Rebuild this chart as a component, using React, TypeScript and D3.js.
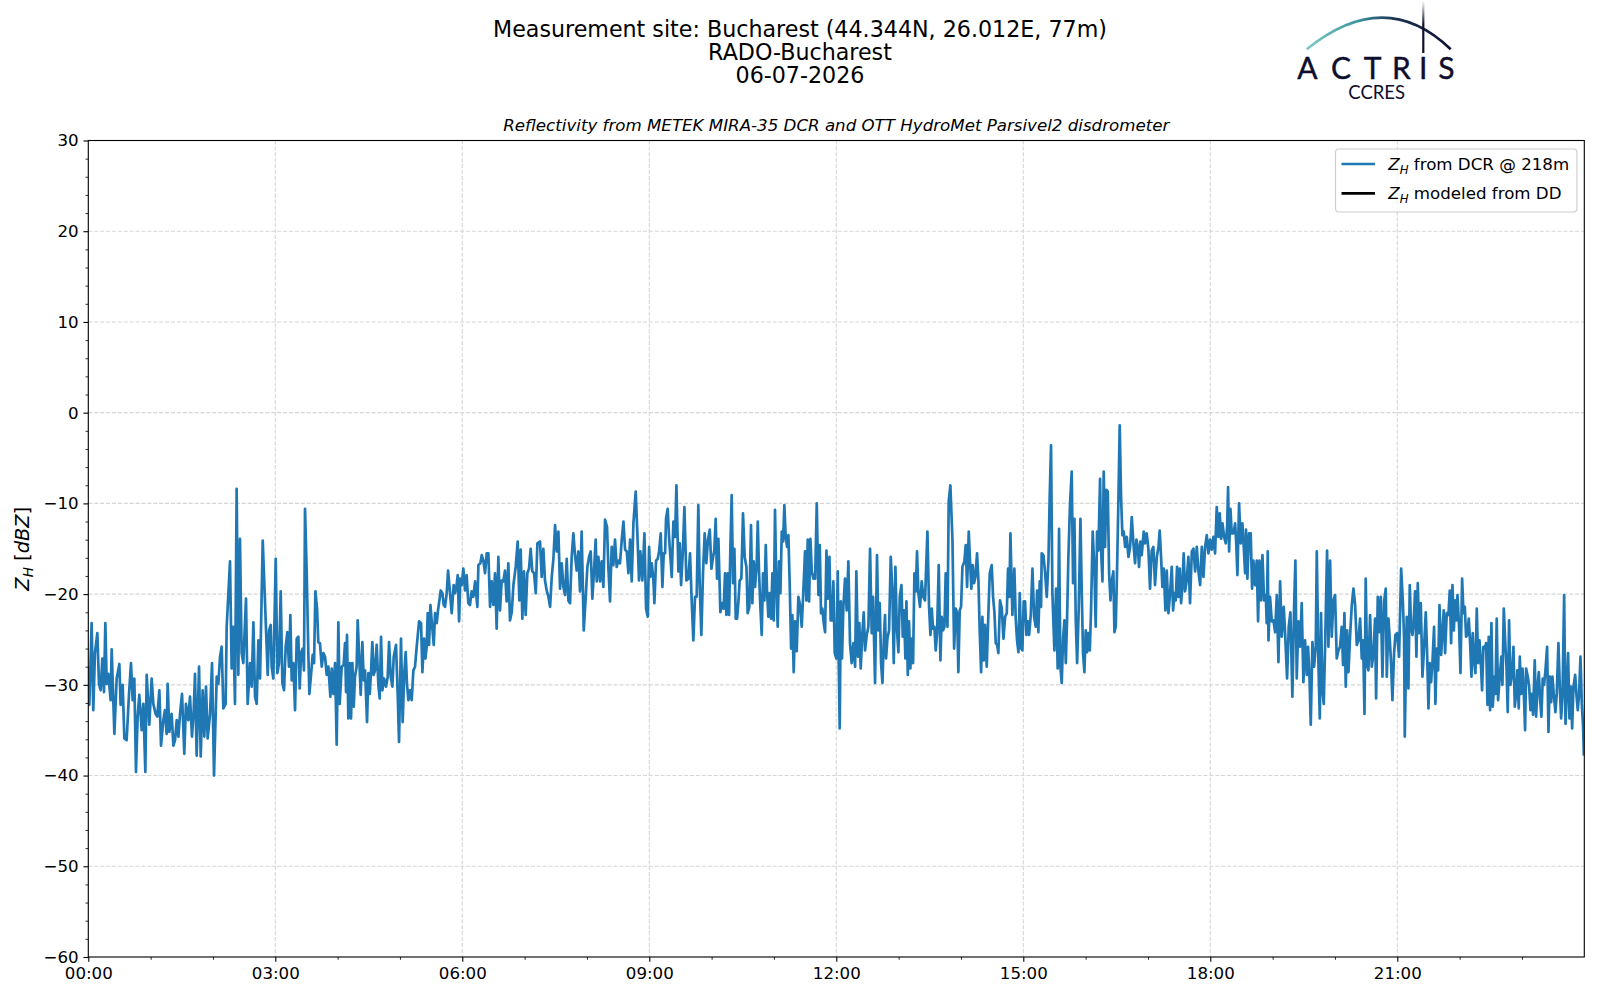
import * as d3 from "d3";
import { useEffect, useRef } from "react";

type Pt = [number, number]; // [minutes after 00:00 UTC, Z_H in dBZ]

// Z_H from the cloud radar at 218 m
const dcrBlock0: Pt[] = [
  [0, -28.0], [1, -32.2], [3.2, -23.2], [4.8, -32.8], [6.4, -26.5], [8.7, -24.3], [10.3, -29.9], [11.9, -30.6],
  [13.5, -27.1], [15.1, -30.8], [16.4, -23.2], [17.7, -29.9], [19.3, -28.8], [21.5, -31.7], [22.5, -26.1], [25.1, -35.4],
  [27.3, -29.3], [29.9, -27.7], [31.1, -32.2], [33.1, -30.0], [34.7, -35.9], [36.9, -36.1], [39.2, -31.0], [41.1, -27.6],
  [42.7, -31.7], [44.3, -29.3], [45.9, -39.6], [47.5, -33.5], [49.1, -31.1], [51.4, -35.0], [53.0, -32.1], [54.9, -39.6],
  [56.2, -28.9], [58.7, -34.4], [61.0, -29.3], [62.6, -32.1], [64.8, -33.2], [66.4, -33.5], [68.4, -30.6], [70.0, -36.7],
  [72.2, -33.9], [73.8, -32.8], [75.4, -35.4], [76.4, -29.9], [78.0, -35.2], [80.2, -33.2], [81.9, -36.7], [83.5, -36.1],
  [85.1, -33.9], [86.7, -35.7], [88.3, -33.2], [90.2, -31.0], [92.4, -37.6], [94.0, -32.1], [96.3, -33.9], [97.9, -31.3],
  [99.8, -35.7], [101.4, -33.0], [102.7, -28.8], [104.3, -37.8], [106.6, -28.0], [108.2, -37.9], [110.1, -30.6], [111.7, -35.7],
  [113.3, -30.2], [114.9, -35.9], [117.2, -33.2], [119.1, -27.6], [121.0, -40.0], [123.6, -29.1], [125.2, -29.9], [126.8, -26.9],
  [128.4, -25.8], [130.0, -32.6], [132.2, -32.1], [133.2, -23.6], [136.4, -16.4], [138.0, -28.2], [139.6, -23.6], [141.2, -32.1],
  [142.8, -8.4], [144.4, -28.9], [146.0, -13.9], [147.6, -26.5], [149.2, -27.6], [151.8, -20.5], [153.4, -32.1], [155.7, -27.6],
  [157.3, -30.2], [158.9, -23.1], [160.5, -31.3], [162.1, -32.1], [163.7, -25.1], [165.3, -29.3], [167.9, -14.1],
];

const dcrBlock1: Pt[] = [
  [171.1, -24.0], [172.7, -28.9], [174.0, -24.0], [175.6, -23.4], [176.5, -28.0], [178.1, -29.3], [180.4, -16.1], [182.0, -28.7],
  [183.6, -27.6], [185.2, -19.7], [186.8, -29.8], [188.4, -30.6], [190.0, -25.8], [191.6, -24.2], [193.2, -28.0], [194.5, -22.3],
  [195.8, -29.5], [197.4, -27.6], [199.0, -32.8], [200.6, -24.9], [202.2, -24.7], [203.5, -30.4], [204.8, -26.5], [206.4, -26.0],
  [207.6, -28.4], [208.6, -10.6], [210.2, -17.4], [211.8, -26.5], [212.8, -31.0], [214.4, -28.9], [216.0, -26.7], [217.3, -27.6],
  [218.6, -19.7], [220.2, -21.6], [221.4, -25.3], [223.0, -25.4], [224.7, -28.0], [226.3, -26.5], [227.9, -26.9], [229.5, -28.9],
  [231.1, -28.0], [233.0, -31.3], [234.3, -28.2], [235.9, -31.0], [237.5, -27.6], [239.1, -36.6], [240.7, -23.1], [242.0, -32.1],
  [243.9, -28.0], [245.8, -27.8], [247.1, -25.4], [248.1, -30.8], [249.0, -24.5], [250.3, -33.7], [251.9, -27.6], [252.9, -33.7],
  [254.2, -27.6], [255.5, -32.4], [256.7, -29.1], [258.3, -28.0], [259.3, -22.9], [260.9, -27.3], [262.2, -31.1], [263.8, -25.3],
  [265.1, -29.5], [266.4, -28.4], [268.3, -34.1], [269.6, -28.7], [270.9, -31.0], [272.1, -28.7], [273.4, -25.3], [274.7, -28.9],
  [276.0, -28.4], [277.6, -25.6], [279.2, -30.0], [280.5, -31.5], [281.8, -24.7], [283.1, -30.6], [284.7, -29.3], [286.6, -30.2],
  [288.2, -29.1], [289.5, -25.3], [291.1, -29.1], [292.7, -30.2], [294.0, -26.9], [296.2, -25.6], [297.8, -31.0], [299.1, -36.3],
  [301.0, -24.9], [302.6, -34.1], [304.2, -28.6], [305.5, -26.4], [306.8, -30.0], [308.1, -31.7], [309.7, -30.6], [311.3, -31.7],
  [312.9, -28.4], [314.5, -28.0], [316.1, -25.8], [318.4, -23.0], [320.3, -23.2], [321.6, -28.6], [323.2, -24.9], [324.5, -27.1],
  [325.7, -25.8], [326.7, -22.1], [328.0, -25.6], [329.3, -21.2], [330.5, -22.9], [332.5, -25.6], [333.8, -22.1], [335.4, -23.2],
  [336.6, -21.8], [337.6, -21.0], [339.2, -19.6], [340.8, -19.9], [342.1, -21.2], [343.4, -21.4], [345.0, -19.9], [346.3, -17.4],
  [348.2, -19.9], [349.8, -22.1], [351.7, -19.0],
];

const dcrBlock2: Pt[] = [
  [353.0, -19.9], [354.3, -19.2], [355.6, -17.9], [356.9, -23.0], [358.1, -18.3], [359.4, -19.0], [361.0, -17.2], [362.6, -19.6],
  [364.2, -17.9], [365.8, -21.0], [367.4, -21.2], [369.0, -19.7], [370.6, -20.3], [372.3, -18.6], [374.5, -21.4], [375.5, -16.8],
  [377.4, -16.6], [378.7, -15.7], [380.3, -16.3], [381.9, -17.7], [383.5, -15.5], [385.1, -15.5], [386.7, -21.4], [388.3, -18.6],
  [389.9, -21.2], [391.5, -17.7], [393.1, -23.8], [394.7, -15.9], [396.3, -21.8], [397.9, -18.5], [399.5, -18.6], [401.1, -17.4],
  [402.7, -20.8], [404.3, -16.6], [405.9, -22.9], [407.6, -22.0], [409.2, -19.0], [411.4, -17.0], [413.3, -14.2], [414.9, -20.7],
  [416.2, -15.1], [417.8, -22.7], [419.4, -17.5], [421.0, -22.3], [422.6, -17.7], [424.2, -17.2], [425.8, -15.0], [427.4, -17.5],
  [429.1, -17.7], [430.7, -19.9], [432.3, -14.4], [434.8, -14.2], [436.4, -18.1], [438.0, -15.0], [439.6, -18.5], [441.2, -19.6],
  [442.9, -20.3], [444.5, -21.4], [446.1, -18.1], [447.7, -16.1], [449.3, -12.4], [450.9, -15.3], [452.5, -13.1], [454.1, -19.4],
  [455.7, -16.6], [457.3, -19.2], [458.9, -20.1], [460.5, -16.1], [462.1, -20.7], [463.7, -21.0], [465.3, -15.9], [466.9, -13.3],
  [468.5, -15.7], [470.1, -17.4], [471.7, -15.3], [473.3, -19.7], [474.9, -13.1], [476.9, -24.0], [478.8, -20.3], [480.4, -17.0],
  [482.0, -15.9], [483.6, -15.3], [485.2, -20.5], [487.1, -16.8], [488.4, -14.0], [489.4, -18.6], [491.0, -15.9], [492.6, -18.6],
  [494.2, -16.4], [495.8, -19.2], [497.4, -11.8], [499.3, -12.6], [500.6, -17.0], [502.2, -20.8], [503.8, -14.8], [505.4, -16.8],
  [507.0, -14.0], [508.6, -17.0], [510.2, -16.3], [511.8, -16.6], [513.5, -14.0], [515.1, -12.0], [516.7, -15.1], [518.3, -15.3],
  [519.9, -17.7], [521.5, -14.0], [523.1, -18.6], [524.7, -12.2], [526.9, -8.7], [528.5, -13.3], [530.1, -18.5], [531.4, -15.3],
  [533.3, -18.5], [535.3, -13.3],
];

const dcrBlock3: Pt[] = [
  [536.9, -21.6], [538.5, -22.5], [539.8, -14.8], [541.0, -18.1], [542.3, -16.6], [543.9, -18.3], [544.9, -21.0], [546.5, -16.3],
  [548.1, -16.1], [549.4, -15.3], [551.0, -13.3], [552.6, -19.2], [553.9, -15.5], [555.2, -15.5], [556.1, -11.7], [557.7, -10.6],
  [559.0, -13.7], [560.3, -15.9], [561.6, -18.1], [563.2, -12.0], [564.8, -13.7], [566.1, -8.0], [568.0, -17.5], [569.3, -14.4],
  [570.6, -19.0], [572.2, -15.5], [573.8, -10.4], [575.7, -18.5], [577.6, -18.3], [579.2, -15.5], [580.8, -20.7], [582.4, -25.1],
  [584.0, -20.3], [585.6, -20.3], [587.2, -10.2], [588.5, -18.8], [590.1, -24.5], [591.7, -17.7], [593.3, -13.3], [594.9, -16.6],
  [596.5, -14.0], [598.2, -12.9], [599.8, -17.2], [601.4, -15.9], [602.6, -15.2], [603.9, -11.7], [605.2, -18.3], [606.5, -13.9],
  [608.4, -22.0], [610.0, -21.0], [611.6, -21.6], [612.9, -17.7], [614.2, -22.3], [615.5, -17.7], [616.8, -22.3], [618.0, -15.2],
  [619.3, -9.1], [620.6, -18.8], [621.9, -15.0], [623.2, -22.7], [624.5, -22.7], [625.8, -20.8], [627.0, -18.5], [628.6, -18.3],
  [630.2, -11.1], [631.8, -15.9], [633.5, -17.0], [634.7, -22.1], [636.3, -21.4], [637.9, -12.4], [639.2, -21.0], [640.5, -16.4],
  [641.8, -19.2], [643.4, -16.6], [644.4, -12.0], [645.6, -17.5], [646.9, -21.4], [648.2, -24.5], [649.5, -17.7], [650.8, -20.7],
  [652.1, -14.6], [653.3, -19.6], [654.6, -22.5], [655.9, -19.9], [657.2, -22.7], [658.5, -17.7], [659.8, -22.9], [661.0, -10.7],
  [662.3, -19.0], [663.6, -23.6], [664.9, -16.4], [666.2, -19.9], [667.5, -13.1], [668.8, -14.2], [670.0, -10.2], [671.3, -13.7],
  [672.6, -14.8], [673.9, -13.5], [675.2, -19.2], [676.5, -26.0], [677.7, -22.3], [679.0, -28.6], [680.3, -23.0], [681.9, -26.3],
  [683.5, -20.3], [685.1, -21.2], [686.7, -23.6], [688.3, -19.6], [689.9, -15.3], [691.2, -20.7], [692.5, -14.0], [693.8, -20.8],
  [695.1, -13.9], [696.4, -17.5], [698.0, -18.3], [699.6, -18.3], [701.2, -10.0], [702.8, -20.1], [704.1, -14.6], [705.3, -22.1],
  [706.6, -21.6], [707.9, -23.2], [709.2, -24.2], [710.5, -15.2], [711.8, -20.5], [713.4, -15.9], [714.6, -22.9], [715.9, -22.9],
  [717.2, -18.6], [718.5, -26.5],
];

const dcrBlock4: Pt[] = [
  [720.1, -27.1], [721.4, -17.5], [722.3, -27.3], [723.3, -34.8], [724.3, -20.8], [725.5, -27.1], [726.8, -21.4], [728.4, -18.3],
  [730.0, -21.8], [731.6, -16.4], [733.2, -25.4], [734.8, -27.6], [736.5, -25.4], [738.1, -28.0], [739.3, -17.5], [740.9, -26.9],
  [742.2, -23.2], [743.5, -28.2], [745.1, -24.3], [746.4, -22.0], [747.7, -26.2], [749.3, -24.5], [750.9, -23.6], [752.5, -15.0],
  [754.1, -24.3], [755.4, -20.3], [757.3, -29.8], [759.2, -15.7], [760.5, -24.0], [761.8, -21.0], [763.1, -27.6], [764.4, -29.8],
  [765.7, -25.1], [766.9, -22.3], [767.9, -27.1], [769.2, -24.9], [770.8, -24.0], [772.4, -15.9], [774.0, -19.6], [775.3, -27.6],
  [776.9, -17.0], [778.2, -23.6], [779.8, -26.4], [781.1, -20.3], [782.7, -19.0], [784.0, -24.7], [785.2, -21.8], [786.5, -27.1],
  [787.5, -20.8], [788.8, -28.9], [790.0, -23.0], [791.3, -28.2], [792.6, -24.9], [793.9, -27.6], [795.2, -17.7], [796.5, -19.7],
  [797.7, -15.3], [799.0, -19.9], [800.6, -21.4], [802.2, -18.6], [803.8, -20.3], [805.4, -20.7], [807.7, -13.1], [809.3, -21.4],
  [810.6, -24.5], [811.9, -21.6], [813.1, -23.8], [814.4, -23.6], [815.7, -26.2], [817.0, -24.3], [818.6, -16.8], [820.2, -27.3],
  [821.5, -22.5], [822.8, -24.0], [824.1, -23.6], [825.3, -17.7], [827.0, -23.6], [828.2, -9.8], [829.8, -8.0], [831.8, -14.0],
  [833.4, -26.0], [835.0, -21.6], [836.3, -22.1], [837.5, -28.6], [838.8, -21.8], [840.1, -21.4], [841.4, -17.0], [843.3, -16.4],
  [844.6, -14.6], [845.9, -19.2], [847.5, -13.1], [848.8, -16.6], [850.0, -19.4], [851.3, -16.8], [852.6, -18.8], [853.9, -18.1],
  [855.5, -15.5], [856.8, -18.5], [858.1, -24.3], [859.4, -28.6], [860.6, -22.5], [861.9, -27.3], [863.2, -23.4], [864.8, -28.0],
  [866.4, -22.1], [867.7, -17.7], [869.6, -16.8], [870.9, -20.3], [872.2, -22.0], [873.5, -25.4], [874.8, -25.6], [876.0, -26.5],
  [877.6, -20.7], [879.3, -21.6], [880.9, -24.9], [882.5, -22.5], [884.1, -22.1], [885.3, -17.2], [886.6, -20.3], [887.6, -13.3],
  [889.5, -22.3], [891.4, -17.2], [892.7, -22.7], [894.0, -25.1], [895.3, -26.4], [896.6, -19.9], [897.9, -26.0], [899.1, -26.2],
  [900.4, -20.8],
];

const dcrBlock5: Pt[] = [
  [901.7, -20.8], [903.0, -24.5], [904.3, -23.0], [905.6, -24.5], [907.2, -22.3], [908.8, -17.2], [910.4, -22.5], [912.0, -23.6],
  [913.3, -19.6], [914.5, -24.2], [915.8, -18.6], [917.1, -21.4], [917.7, -15.5], [919.4, -15.7], [921.0, -17.7], [922.6, -20.3],
  [924.2, -16.3], [925.4, -9.3], [926.7, -3.6], [928.0, -19.9], [929.9, -26.2], [931.5, -19.4], [933.1, -28.2], [934.4, -12.8],
  [935.7, -28.0], [937.0, -29.8], [938.3, -24.9], [939.6, -22.9], [940.9, -27.6], [942.1, -22.9], [943.4, -15.9], [945.0, -10.0],
  [946.6, -6.5], [947.9, -18.8], [949.2, -11.7], [950.5, -22.9], [951.8, -27.6], [953.4, -21.4], [955.0, -11.7], [956.3, -19.9],
  [957.5, -26.5], [958.8, -28.6], [960.1, -24.0], [961.4, -26.4], [962.7, -24.3], [964.0, -26.2], [965.2, -21.8], [966.8, -13.1],
  [968.4, -17.2], [969.7, -23.6], [971.0, -13.1], [972.3, -15.2], [973.9, -7.3], [974.9, -15.2], [976.2, -18.6], [977.4, -6.5],
  [978.7, -14.8], [980.0, -8.5], [981.3, -8.7], [982.6, -17.7], [983.9, -20.7], [985.1, -18.6], [986.7, -17.5], [987.7, -24.2],
  [989.0, -23.6], [990.3, -17.0], [991.6, -9.3], [992.8, -1.4], [994.1, -9.3], [995.4, -13.5], [996.7, -13.1], [998.0, -14.8],
  [999.6, -13.7], [1001.2, -15.9], [1002.8, -14.8], [1004.4, -11.5], [1006.0, -14.4], [1007.6, -16.6], [1008.9, -14.0], [1010.2, -14.8],
  [1011.4, -17.0], [1012.7, -14.2], [1014.0, -15.7], [1015.9, -13.1], [1017.2, -14.4], [1018.8, -13.3], [1020.4, -15.0], [1022.0, -19.4],
  [1023.6, -15.2], [1025.2, -14.8], [1026.8, -19.0], [1028.5, -15.9], [1030.1, -14.8], [1031.3, -13.0], [1032.6, -15.9], [1033.9, -19.2],
  [1035.2, -17.2], [1036.8, -21.8], [1038.1, -17.4], [1039.7, -22.1], [1041.3, -19.9], [1042.9, -17.0], [1044.2, -21.8], [1045.5, -19.9],
  [1046.7, -20.7], [1048.0, -17.0], [1049.3, -20.3], [1050.6, -17.2], [1051.9, -21.0], [1053.2, -19.0], [1054.4, -15.5], [1055.7, -19.7],
  [1057.3, -18.5], [1058.9, -15.9], [1060.5, -21.0], [1062.2, -15.3], [1063.8, -15.0], [1065.4, -17.5], [1067.0, -14.8], [1068.6, -17.5],
  [1070.2, -19.0], [1071.8, -14.8], [1073.4, -18.1], [1075.0, -14.8], [1076.6, -13.5], [1078.2, -15.5], [1079.8, -14.0], [1081.4, -15.1],
  [1083.0, -13.7],
];

const dcrBlock6: Pt[] = [
  [1084.6, -15.5], [1086.2, -10.4], [1087.8, -13.7], [1089.1, -11.1], [1090.4, -13.9], [1091.7, -12.2], [1093.3, -13.7], [1094.9, -14.4],
  [1096.2, -12.6], [1097.1, -8.2], [1098.1, -15.3], [1099.4, -10.6], [1100.6, -13.3], [1102.3, -13.3], [1103.9, -12.2], [1104.8, -14.0],
  [1106.1, -17.9], [1107.7, -10.0], [1109.3, -14.4], [1110.9, -12.2], [1112.2, -14.8], [1113.5, -17.7], [1114.4, -12.9], [1115.7, -18.3],
  [1117.3, -13.3], [1118.9, -13.3], [1120.2, -19.4], [1121.5, -16.3], [1123.1, -19.0], [1124.7, -16.3], [1126.0, -23.0], [1127.3, -16.3],
  [1128.9, -20.7], [1130.2, -15.7], [1131.8, -20.7], [1133.4, -20.1], [1134.3, -23.2], [1135.3, -15.3], [1136.0, -25.1], [1137.5, -20.3],
  [1139.2, -23.0], [1140.8, -22.9], [1142.4, -24.2], [1144.0, -20.1], [1145.6, -27.5], [1147.2, -18.6], [1148.8, -24.7], [1150.7, -21.4],
  [1152.0, -24.3], [1153.9, -29.3], [1155.5, -23.6], [1157.1, -22.0], [1159.0, -31.3], [1160.7, -21.2], [1161.9, -16.3], [1163.2, -29.3],
  [1164.8, -23.0], [1166.4, -25.8], [1168.0, -21.0], [1169.6, -29.7], [1171.2, -25.1], [1172.9, -28.9], [1174.1, -25.8], [1175.4, -28.9],
  [1176.7, -34.4], [1178.3, -25.3], [1179.9, -28.0], [1181.5, -25.8], [1182.5, -15.3], [1184.1, -27.8], [1185.4, -33.7], [1186.6, -22.1],
  [1187.9, -30.6], [1189.2, -32.1], [1190.5, -25.8], [1192.4, -15.2], [1193.7, -25.8], [1195.3, -16.3], [1196.9, -24.7], [1198.5, -20.7],
  [1200.1, -20.1], [1201.7, -27.1], [1203.3, -26.2], [1204.9, -25.8], [1206.5, -23.6], [1207.8, -27.8], [1209.1, -22.1], [1210.4, -30.2],
  [1211.7, -24.0], [1213.0, -28.6], [1214.6, -24.5], [1216.2, -21.2], [1217.8, -19.4], [1219.4, -21.2], [1221.0, -25.6], [1222.6, -25.1],
  [1224.2, -22.7], [1225.8, -27.1], [1227.1, -25.1], [1228.4, -33.2], [1229.6, -18.3], [1230.9, -27.8], [1232.2, -28.4], [1233.8, -22.3],
  [1235.4, -28.0], [1237.0, -26.7], [1238.6, -22.7], [1239.6, -31.5], [1241.2, -20.3], [1242.5, -24.2], [1244.1, -20.3], [1245.7, -29.1],
  [1247.3, -20.8], [1248.9, -19.4], [1249.9, -29.1], [1251.5, -22.7], [1252.8, -25.1], [1254.0, -27.6], [1255.3, -31.7], [1256.9, -26.5],
  [1258.2, -24.5], [1259.8, -24.3], [1261.7, -26.9], [1263.7, -17.2], [1265.3, -20.7], [1266.5, -24.7], [1267.2, -35.7],
];

const dcrBlock7: Pt[] = [
  [1269.1, -22.5], [1270.7, -30.4], [1272.0, -19.0], [1273.3, -23.6], [1274.6, -24.5], [1275.8, -23.0], [1277.1, -19.7], [1278.4, -26.9],
  [1279.7, -18.8], [1281.0, -24.3], [1282.6, -21.0], [1284.2, -29.1], [1285.5, -26.5], [1287.4, -22.0], [1288.7, -26.5], [1290.0, -32.6],
  [1291.2, -27.6], [1292.5, -29.7], [1293.8, -27.6], [1295.4, -23.6], [1296.7, -32.1], [1298.0, -26.0], [1299.3, -28.4], [1300.6, -21.2],
  [1302.2, -26.7], [1303.4, -24.3], [1304.7, -21.8], [1306.0, -26.5], [1307.6, -22.1], [1309.2, -22.3], [1310.5, -19.6], [1311.8, -25.4],
  [1313.1, -19.0], [1314.4, -24.0], [1315.6, -20.7], [1316.9, -22.9], [1317.9, -20.1], [1319.5, -23.6], [1320.8, -28.7], [1322.4, -18.3],
  [1323.7, -22.1], [1325.0, -21.4], [1326.2, -24.7], [1327.5, -24.5], [1328.8, -22.7], [1330.1, -25.4], [1331.4, -29.1], [1332.6, -24.3],
  [1333.9, -27.3], [1335.2, -28.7], [1336.5, -21.6], [1337.8, -27.6], [1339.1, -25.1], [1340.3, -27.3], [1341.6, -30.6], [1342.9, -25.8],
  [1344.2, -26.0], [1345.5, -25.4], [1346.8, -32.2], [1348.0, -24.7], [1349.3, -32.8], [1350.6, -23.2], [1351.9, -32.4], [1353.5, -29.1],
  [1354.5, -31.0], [1355.7, -22.7], [1357.0, -31.7], [1358.6, -29.1], [1360.2, -26.9], [1361.2, -30.0], [1362.5, -21.6], [1363.8, -25.1],
  [1365.1, -28.0], [1366.3, -33.0], [1367.6, -22.9], [1368.9, -30.0], [1370.5, -28.9], [1371.8, -25.8], [1373.1, -32.4], [1374.4, -31.0],
  [1375.6, -28.4], [1376.9, -32.6], [1377.9, -26.9], [1379.2, -31.0], [1380.5, -28.2], [1381.7, -30.6], [1383.0, -35.0], [1384.0, -28.2],
  [1385.6, -29.1], [1386.9, -30.2], [1388.2, -32.8], [1389.4, -31.0], [1390.7, -33.3], [1392.3, -27.3], [1393.6, -33.5], [1394.9, -30.4],
  [1396.2, -28.6], [1397.5, -31.7], [1398.7, -33.5], [1400.0, -29.3], [1401.3, -30.0], [1402.6, -28.4], [1404.2, -25.8], [1405.5, -35.2],
  [1406.8, -29.1], [1408.1, -31.9], [1409.3, -29.1], [1410.6, -31.0], [1412.2, -33.0], [1413.5, -31.0], [1415.1, -25.4], [1416.4, -30.2],
  [1417.7, -33.7], [1419.0, -31.3], [1420.6, -20.1], [1421.9, -34.3], [1423.1, -30.8], [1424.4, -26.5], [1425.7, -33.7], [1427.0, -30.2],
  [1428.3, -34.8], [1429.6, -30.2], [1431.2, -28.9], [1432.4, -31.0], [1433.7, -32.8], [1435.0, -31.0], [1436.3, -26.9], [1437.6, -32.1],
  [1438.9, -34.8], [1439.6, -37.8],
];

const dcrZh: Pt[] = [
  ...dcrBlock0, ...dcrBlock1, ...dcrBlock2, ...dcrBlock3,
  ...dcrBlock4, ...dcrBlock5, ...dcrBlock6, ...dcrBlock7,
];

// Z_H modeled from the disdrometer drop size distribution: no rain that day
const ddZh: Pt[] = [];

const timeTickLabels = ["00:00", "03:00", "06:00", "09:00", "12:00", "15:00", "18:00", "21:00"];
const zTicks = [-60, -50, -40, -30, -20, -10, 0, 10, 20, 30];

const titleLines = [
  "Measurement site: Bucharest (44.344N, 26.012E, 77m)",
  "RADO-Bucharest",
  "06-07-2026",
];
const subtitle = "Reflectivity from METEK MIRA-35 DCR and OTT HydroMet Parsivel2 disdrometer";

const legendItems = [
  { label: " from DCR @ 218m", color: "#1f77b4" },
  { label: " modeled from DD", color: "#000000" },
];

const logoLetters: [string, number][] = [
  ["A", 1307.5], ["C", 1341], ["T", 1372.5], ["R", 1401.5], ["I", 1423.3], ["S", 1446.5],
];

const toMinutes = (s: string) => {
  const [h, m] = s.split(":").map(Number);
  return h * 60 + m;
};

function App() {
  const ref = useRef<SVGSVGElement>(null);

  useEffect(() => {
    const width = 1600;
    const height = 1000;
    const margin = { top: 140.5, bottom: 43, left: 88.3, right: 15.7 };
    const font = "DejaVu Sans";

    const svg = d3.select(ref.current);
    svg.selectAll("*").remove();

    const x = d3.scaleLinear().domain([0, 1440]).range([margin.left, width - margin.right]);
    const y = d3.scaleLinear().domain([-60, 30]).range([height - margin.bottom, margin.top]);

    const x0 = margin.left, x1 = width - margin.right;
    const y0 = margin.top, y1 = height - margin.bottom;

    svg.append("rect").attr("width", width).attr("height", height).attr("fill", "white");

    // Titles
    svg.append("g")
      .selectAll("text")
      .data(titleLines)
      .join("text")
      .attr("x", width / 2)
      .attr("y", (_, i) => 36.7 + i * 23)
      .attr("text-anchor", "middle")
      .attr("font-family", font)
      .attr("font-size", 22.2)
      .text((d) => d);

    svg.append("text")
      .attr("x", (x0 + x1) / 2)
      .attr("y", 131)
      .attr("text-anchor", "middle")
      .attr("font-family", font)
      .attr("font-style", "italic")
      .attr("font-size", 16.67)
      .text(subtitle);

    // Grid
    const tickMinutes = timeTickLabels.map(toMinutes);
    const grid = svg.append("g")
      .attr("stroke", "#d6d6d6")
      .attr("stroke-width", 1.1)
      .attr("stroke-dasharray", "4.1,1.8");
    grid.selectAll("line.v")
      .data(tickMinutes.slice(1))
      .join("line")
      .attr("x1", (d) => x(d)).attr("x2", (d) => x(d))
      .attr("y1", y0).attr("y2", y1);
    grid.selectAll("line.h")
      .data(zTicks.slice(1, -1))
      .join("line")
      .attr("x1", x0).attr("x2", x1)
      .attr("y1", (d) => y(d)).attr("y2", (d) => y(d));

    // Series
    svg.append("clipPath").attr("id", "plot-area")
      .append("rect").attr("x", x0).attr("y", y0).attr("width", x1 - x0).attr("height", y1 - y0);

    const line = d3.line<Pt>().x((d) => x(d[0])).y((d) => y(d[1]));

    svg.append("path")
      .datum(dcrZh)
      .attr("clip-path", "url(#plot-area)")
      .attr("fill", "none")
      .attr("stroke", "#1f77b4")
      .attr("stroke-width", 2.7)
      .attr("stroke-linejoin", "round")
      .attr("d", line);

    if (ddZh.length) {
      svg.append("path")
        .datum(ddZh)
        .attr("clip-path", "url(#plot-area)")
        .attr("fill", "none")
        .attr("stroke", "black")
        .attr("stroke-width", 2.7)
        .attr("d", line);
    }

    // Axes
    const styleAxis = (g: d3.Selection<SVGGElement, unknown, null, undefined>) => {
      g.select(".domain").remove();
      g.attr("font-family", font).attr("font-size", 16.67);
      g.selectAll("line").attr("stroke", "black").attr("stroke-width", 1.11);
      g.selectAll("text").attr("fill", "black");
    };

    svg.append("g")
      .attr("transform", `translate(0,${y1})`)
      .call(d3.axisBottom(x).tickValues(tickMinutes).tickSize(4.86).tickPadding(4.86)
        .tickFormat((_, i) => timeTickLabels[i]))
      .call(styleAxis);

    svg.append("g")
      .attr("transform", `translate(0,${y1})`)
      .call(d3.axisBottom(x).tickValues(d3.range(60, 1440, 60).filter((m) => m % 180 !== 0))
        .tickSize(2.78).tickFormat(() => ""))
      .call(styleAxis)
      .selectAll("line").attr("stroke-width", 0.83);

    svg.append("g")
      .attr("transform", `translate(${x0},0)`)
      .call(d3.axisLeft(y).tickValues(zTicks).tickSize(4.86).tickPadding(4.86).tickFormat(d3.format("d")))
      .call(styleAxis);

    svg.append("g")
      .attr("transform", `translate(${x0},0)`)
      .call(d3.axisLeft(y).tickValues(d3.range(-60, 31, 2).filter((v) => v % 10 !== 0))
        .tickSize(2.78).tickFormat(() => ""))
      .call(styleAxis)
      .selectAll("line").attr("stroke-width", 0.83);

    // Frame
    svg.append("rect")
      .attr("x", x0).attr("y", y0)
      .attr("width", x1 - x0).attr("height", y1 - y0)
      .attr("fill", "none")
      .attr("stroke", "black")
      .attr("stroke-width", 1.11);

    // Y label:  Z_H [dBZ]
    const ylab = svg.append("text")
      .attr("transform", `translate(29,${(y0 + y1) / 2}) rotate(-90)`)
      .attr("text-anchor", "middle")
      .attr("font-family", font)
      .attr("font-size", 19.4);
    ylab.append("tspan").attr("font-style", "italic").text("Z");
    ylab.append("tspan").attr("font-style", "italic").attr("font-size", 13.6).attr("dy", 4).text("H");
    ylab.append("tspan").attr("dy", -4).text(" [");
    ylab.append("tspan").attr("font-style", "italic").text("dBZ");
    ylab.append("tspan").text("]");

    // Legend
    const legend = svg.append("g");
    legend.append("rect")
      .attr("x", 1335.5).attr("y", 149)
      .attr("width", 241.5).attr("height", 63)
      .attr("rx", 3.5)
      .attr("fill", "white").attr("fill-opacity", 0.8)
      .attr("stroke", "#cccccc").attr("stroke-width", 1.11);

    const rows = legend.selectAll("g.row")
      .data(legendItems)
      .join("g")
      .attr("transform", (_, i) => `translate(0,${164 + i * 29.3})`);
    rows.append("line")
      .attr("x1", 1341.5).attr("x2", 1375)
      .attr("stroke", (d) => d.color)
      .attr("stroke-width", 2.7);
    const rowText = rows.append("text")
      .attr("x", 1388.3).attr("y", 6)
      .attr("font-family", font)
      .attr("font-size", 16.67);
    rowText.append("tspan").attr("font-style", "italic").text("Z");
    rowText.append("tspan").attr("font-style", "italic").attr("font-size", 11.7).attr("dy", 3.5).text("H");
    rowText.append("tspan").attr("dy", -3.5).text((d) => d.label);

    // ACTRIS / CCRES logo
    const defs = svg.append("defs");
    const arcGrad = defs.append("linearGradient")
      .attr("id", "arc-grad").attr("gradientUnits", "userSpaceOnUse")
      .attr("x1", 1306).attr("x2", 1451).attr("y1", 0).attr("y2", 0);
    arcGrad.append("stop").attr("offset", 0).attr("stop-color", "#7fcbc8");
    arcGrad.append("stop").attr("offset", 0.35).attr("stop-color", "#3d97a1");
    arcGrad.append("stop").attr("offset", 0.6).attr("stop-color", "#1b3552");
    arcGrad.append("stop").attr("offset", 1).attr("stop-color", "#0f0f30");
    const barGrad = defs.append("linearGradient")
      .attr("id", "bar-grad").attr("gradientUnits", "userSpaceOnUse")
      .attr("x1", 0).attr("x2", 0).attr("y1", 1).attr("y2", 53);
    barGrad.append("stop").attr("offset", 0).attr("stop-color", "#ffffff");
    barGrad.append("stop").attr("offset", 0.45).attr("stop-color", "#0f0f30");
    barGrad.append("stop").attr("offset", 1).attr("stop-color", "#0f0f30");

    const logo = svg.append("g");
    logo.append("path")
      .attr("d", "M1306.7,49.3 Q1385,-14 1450.7,49.3")
      .attr("fill", "none")
      .attr("stroke", "url(#arc-grad)")
      .attr("stroke-width", 2.6);
    logo.append("line")
      .attr("x1", 1423.3).attr("x2", 1423.3).attr("y1", 1).attr("y2", 53)
      .attr("stroke", "url(#bar-grad)")
      .attr("stroke-width", 2.2);
    logo.selectAll("text.letter")
      .data(logoLetters)
      .join("text")
      .attr("x", (d) => d[1])
      .attr("y", 78.5)
      .attr("text-anchor", "middle")
      .attr("font-family", "Lato")
      .attr("font-size", 30)
      .attr("stroke", "#0e0e2e")
      .attr("stroke-width", 0.4)
      .attr("fill", "#0e0e2e")
      .text((d) => d[0]);
    logo.append("text")
      .attr("x", 1376.7).attr("y", 99.3)
      .attr("text-anchor", "middle")
      .attr("font-family", "Lato")
      .attr("font-size", 18.5)
      .attr("fill", "#0e0e2e")
      .text("CCRES");
  }, []);

  return <svg ref={ref} width={1600} height={1000} style={{ position: "absolute", left: 0, top: 0 }} />;
}

export default App;
